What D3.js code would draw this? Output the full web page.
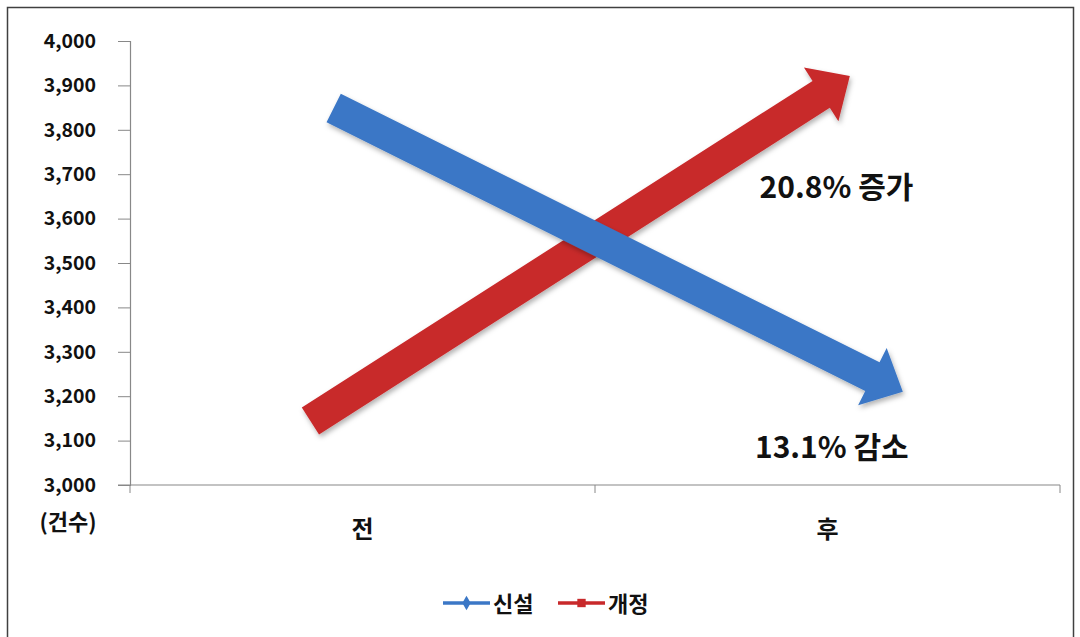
<!DOCTYPE html>
<html><head><meta charset="utf-8">
<script src="https://cdn.jsdelivr.net/npm/d3@7"></script>
<style>
body{margin:0;background:#fff;}
text{font-family:"Noto Sans CJK KR","Malgun Gothic",sans-serif;}
</style></head>
<body><svg id="c" width="1080" height="637"></svg>
<script>
// ---- data ----
const categories = ["전", "후"];
const yTicks = [3000,3100,3200,3300,3400,3500,3600,3700,3800,3900,4000];
const seriesNames = ["신설", "개정"];
const seriesColors = ["#3b77c6", "#c8292b"];
// arrow start/end in category units (0..2, category centres at 0.5 and 1.5) and values
const sinseolX = [0.438, 1.662];
const sinseolY = [3849, 3210];
const gaejeongX = [0.388, 1.548];
const gaejeongY = [3144, 3921];
const labels = ["20.8% 증가", "13.1% 감소"];
const labelX = [1.354, 1.344];
const labelY = [3646, 3060];

const svg = d3.select("#c");
const margin = {left:130, right:1060, top:41, bottom:485};
const x = d3.scaleLinear().domain([0,2]).range([margin.left, margin.right]);
const xb = d3.scaleBand().domain(categories).range([margin.left, margin.right]);
const y = d3.scaleLinear().domain([3000,4000]).range([margin.bottom, margin.top]);

// border
svg.append("rect").attr("x",7.5).attr("y",7.5).attr("width",1066).attr("height",640)
  .attr("fill","none").attr("stroke","#404040").attr("stroke-width",1.5);

const defs = svg.append("defs");
const f = defs.append("filter").attr("id","sh").attr("x","-10%").attr("y","-10%").attr("width","120%").attr("height","130%");
f.append("feDropShadow").attr("dx",1.5).attr("dy",3).attr("stdDeviation",2.5).attr("flood-color","#000").attr("flood-opacity",0.3);

// y axis
const yAxis = svg.append("g").attr("transform",`translate(${margin.left},0)`)
  .call(d3.axisLeft(y).tickValues(yTicks).tickSize(12).tickPadding(22).tickFormat(d3.format(",")));
yAxis.select(".domain").attr("stroke","#888").attr("stroke-width",1.2);
yAxis.selectAll(".tick line").attr("stroke","#888");
yAxis.selectAll("text").attr("font-size",19.5).attr("font-weight","bold").attr("fill","#111")
  .attr("font-family","'DejaVu Sans',sans-serif");

// x axis
const xAxis = svg.append("g").attr("transform",`translate(0,${margin.bottom})`)
  .call(d3.axisBottom(xb).tickSize(0).tickPadding(36));
xAxis.select(".domain").remove();
xAxis.selectAll("text").attr("font-size",24).attr("font-weight","bold").attr("fill","#111");
svg.append("line").attr("x1",margin.left-12).attr("x2",margin.right).attr("y1",margin.bottom).attr("y2",margin.bottom)
  .attr("stroke","#888").attr("stroke-width",1.2);
[0,1,2].forEach(i=>{
  svg.append("line").attr("x1",x(i)).attr("x2",x(i)).attr("y1",margin.bottom).attr("y2",margin.bottom+8).attr("stroke","#888");
});
svg.append("text").attr("x",68).attr("y",530).attr("text-anchor","middle").attr("font-size",22).attr("font-weight","bold")
  .attr("fill","#111").text("(건수)");

// arrows
function arrow(x0,y0,x1,y1,w,hw,hl){
  const dx=x1-x0, dy=y1-y0, L=Math.hypot(dx,dy), ux=dx/L, uy=dy/L, nx=-uy, ny=ux;
  const bx=x1-ux*hl, by=y1-uy*hl;
  const p=[[x0+nx*w/2,y0+ny*w/2],[bx+nx*w/2,by+ny*w/2],[bx+nx*hw/2,by+ny*hw/2],[x1,y1],
           [bx-nx*hw/2,by-ny*hw/2],[bx-nx*w/2,by-ny*w/2],[x0-nx*w/2,y0-ny*w/2]];
  return "M"+p.map(d=>d.join(",")).join("L")+"Z";
}
const arrows = [
  {xs:gaejeongX, ys:gaejeongY, c:seriesColors[1]},
  {xs:sinseolX, ys:sinseolY, c:seriesColors[0]}
];
svg.selectAll("path.arr").data(arrows).enter().append("path").attr("class","arr")
  .attr("d",d=>arrow(x(d.xs[0]),y(d.ys[0]),x(d.xs[1]),y(d.ys[1]),32,64,34))
  .attr("fill",d=>d.c).attr("filter","url(#sh)");

// labels
svg.selectAll("text.lbl").data(labels).enter().append("text").attr("class","lbl")
  .attr("x",(d,i)=>x(labelX[i])).attr("y",(d,i)=>y(labelY[i])).attr("font-size",30).attr("font-weight","bold")
  .attr("fill","#111").text(d=>d);

// legend
const lg = svg.append("g").attr("transform","translate(443,603)");
const items=[{n:seriesNames[0],c:seriesColors[0],m:"diamond",x:0},{n:seriesNames[1],c:seriesColors[1],m:"square",x:115}];
items.forEach(it=>{
  const g=lg.append("g").attr("transform",`translate(${it.x},0)`);
  g.append("line").attr("x1",0).attr("x2",47).attr("y1",0).attr("y2",0).attr("stroke",it.c).attr("stroke-width",3.5);
  g.append("path").attr("d",d3.symbol().type(it.m==="diamond"?d3.symbolDiamond:d3.symbolSquare).size(it.m==="diamond"?60:70)())
   .attr("transform","translate(23.5,0)").attr("fill",it.c);
  g.append("text").attr("x",50).attr("y",9).attr("font-size",22).attr("font-weight","bold").attr("fill","#111").text(it.n);
});
</script></body></html>
